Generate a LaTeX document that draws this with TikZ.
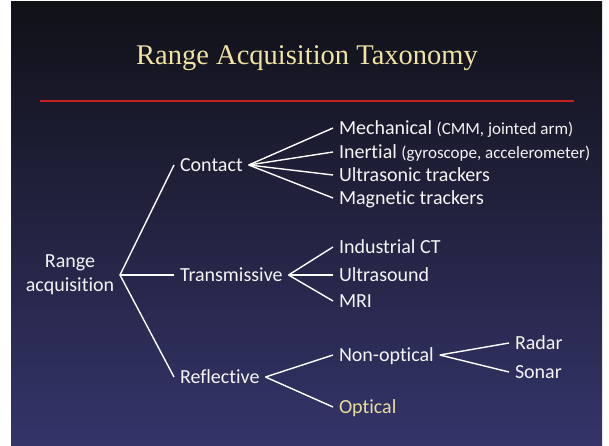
\documentclass[tikz,border=0pt]{standalone}
\usepackage{fontspec}
\setmainfont[Ligatures={NoCommon,NoRare,NoContextual}]{Carlito}
\newfontfamily\titlefont{Liberation Serif}
\definecolor{bgtop}{HTML}{111118}
\definecolor{bgbot}{HTML}{34346A}
\definecolor{titleyellow}{HTML}{F0E4A4}
\definecolor{optyellow}{HTML}{E9DD9C}
\definecolor{rulered}{HTML}{C42020}
\definecolor{txt}{HTML}{F4F4F4}
\newcommand{\smallpar}[1]{{\fontsize{17}{19}\selectfont #1}}
\begin{document}
\begin{tikzpicture}[x=1pt,y=-1pt,
  item/.style={anchor=west, text=txt, font=\fontsize{20}{24}\selectfont,
    inner xsep=6pt, inner ysep=0pt, text height=13pt, text depth=0pt, outer sep=0pt},
  branch/.style={draw=white, line width=1.4pt}]
\useasboundingbox[fill=white] (0,0) rectangle (609,446);
\shade[top color=bgtop, bottom color=bgbot] (11,2) rectangle (602,446);
% title and rule
\node[anchor=base, text=titleyellow, font=\titlefont\fontsize{28.5}{32}\selectfont, inner sep=0pt] (title) at (307,65) {Range Acquisition Taxonomy};
\draw[rulered, line width=2.5pt] (40,101) -- (574,101);
% root
\node[text=txt, font=\fontsize{20}{24}\selectfont, align=center, inner sep=0pt] (root) at (70,275) {Range\\acquisition};
\coordinate (rj) at (120,275);
% level 1
\node[item] (contact) at (174,165) {Contact};
\node[item] (trans) at (174,275) {Transmissive};
\node[item] (refl) at (174,377) {Reflective};
% contact children
\node[item] (mech) at (333,128) {Mechanical \smallpar{(CMM, jointed arm)}};
\node[item] (inert) at (333,152) {Inertial \smallpar{(gyroscope, accelerometer)}};
\node[item] (ultra) at (333,175) {Ultrasonic trackers};
\node[item] (magn) at (333,198) {Magnetic trackers};
% transmissive children
\node[item] (ict) at (333,247) {Industrial CT};
\node[item] (usound) at (333,275) {Ultrasound};
\node[item] (mri) at (333,301) {MRI};
% reflective children
\node[item] (nonopt) at (333,355) {Non-optical};
\node[item, text=optyellow] (opt) at (333,407) {Optical};
\node[item] (radar) at (509,343) {Radar};
\node[item] (sonar) at (509,372) {Sonar};
% connectors
\draw[branch] (contact.west) -- (rj) -- (refl.west);
\draw[branch] (rj) -- (trans.west);
\foreach \c in {mech,inert,ultra,magn} \draw[branch] (contact.east) -- (\c.west);
\foreach \c in {ict,usound,mri} \draw[branch] (trans.east) -- (\c.west);
\foreach \c in {nonopt,opt} \draw[branch] (refl.east) -- (\c.west);
\foreach \c in {radar,sonar} \draw[branch] (nonopt.east) -- (\c.west);
\end{tikzpicture}
\end{document}
